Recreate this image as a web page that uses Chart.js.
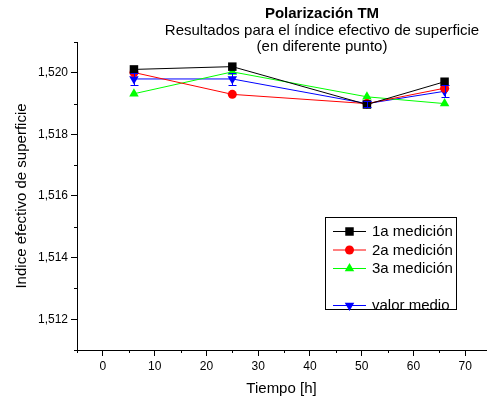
<!DOCTYPE html>
<html>
<head>
<meta charset="utf-8">
<script src="https://cdn.jsdelivr.net/npm/chart.js@4"></script>
<style>
  html, body { margin: 0; padding: 0; background: #fff; }
  #wrap { width: 492px; height: 399px; }
</style>
</head>
<body>
<div id="wrap"><canvas id="chart" width="492" height="399"></canvas></div>
<script>
const tiempo = [6, 25, 51, 66];
const medicion1 = [1.52011, 1.5202, 1.51897, 1.51971];
const medicion2 = [1.52001, 1.5193, 1.5190, 1.5195];
const medicion3 = [1.51932, 1.52003, 1.51922, 1.5190];
const valorMedio = [1.5198, 1.5198, 1.5190, 1.5194];
const errorMedio = [0.0002, 0.0002, 0.0001, 0.0002];
const xTicks = [0, 10, 20, 30, 40, 50, 60, 70];
const xMinorTicks = [-5, 5, 15, 25, 35, 45, 55, 65];
const yTicks = [1.512, 1.514, 1.516, 1.518, 1.520];
const yMinorTicks = [1.511, 1.513, 1.515, 1.517, 1.519, 1.521];
const titleLines = ['Polarización TM', 'Resultados para el índice efectivo de superficie', '(en diferente punto)'];
const legendLabels = ['1a medición', '2a medición', '3a medición', 'valor medio'];

const FONT = '"Liberation Sans", Arial, sans-serif';
Chart.defaults.font.family = FONT;
Chart.defaults.color = '#000';

function pts(ys) {
  return tiempo.map((t, i) => ({x: t, y: ys[i]}));
}

const datasets = [
  {label: legendLabels[0], data: pts(medicion1), borderColor: '#000', backgroundColor: '#000',
   pointStyle: 'rect', pointRadius: 6},
  {label: legendLabels[1], data: pts(medicion2), borderColor: '#ff0000', backgroundColor: '#ff0000',
   pointStyle: 'circle', pointRadius: 4.5},
  {label: legendLabels[2], data: pts(medicion3), borderColor: '#00ff00', backgroundColor: '#00ff00',
   pointStyle: 'triangle', pointRadius: 5.5},
  {label: legendLabels[3], data: pts(valorMedio), borderColor: '#0000ff', backgroundColor: '#0000ff',
   pointStyle: 'triangle', pointRotation: 180, pointRadius: 5.5},
];
datasets.forEach(d => {
  d.borderWidth = 1;
  d.pointBorderWidth = 0;
  d.tension = 0;
  d.fill = false;
});

// titles drawn above the plot, overlapping the top of the chart area
const titlePlugin = {
  id: 'titles',
  afterDraw(chart) {
    const ctx = chart.ctx;
    ctx.save();
    ctx.fillStyle = '#000';
    ctx.textAlign = 'center';
    ctx.textBaseline = 'middle';
    ctx.font = 'bold 15px ' + FONT;
    ctx.fillText(titleLines[0], 322, 14);
    ctx.font = '15px ' + FONT;
    ctx.fillText(titleLines[1], 322, 31);
    ctx.fillText(titleLines[2], 322, 47);
    ctx.restore();
  }
};

// short minor ticks
const minorTicks = {
  id: 'minorTicks',
  afterDraw(chart) {
    const {ctx, scales: {x, y}, chartArea} = chart;
    ctx.save();
    ctx.strokeStyle = '#000';
    ctx.lineWidth = 1;
    ctx.beginPath();
    xMinorTicks.forEach(v => {
      const px = Math.round(x.getPixelForValue(v)) + 0.5;
      ctx.moveTo(px, chartArea.bottom);
      ctx.lineTo(px, chartArea.bottom + 3);
    });
    yMinorTicks.forEach(v => {
      const py = Math.round(y.getPixelForValue(v)) + 0.5;
      ctx.moveTo(chartArea.left, py);
      ctx.lineTo(chartArea.left - 3, py);
    });
    ctx.stroke();
    ctx.restore();
  }
};

// error bars on the mean
const errorBars = {
  id: 'errorBars',
  afterDatasetsDraw(chart) {
    const {ctx, scales: {x, y}} = chart;
    ctx.save();
    ctx.strokeStyle = '#0000ff';
    ctx.lineWidth = 1;
    ctx.beginPath();
    tiempo.forEach((t, i) => {
      const px = Math.round(x.getPixelForValue(t)) + 0.5;
      const top = Math.round(y.getPixelForValue(valorMedio[i] + errorMedio[i])) + 0.5;
      const bot = Math.round(y.getPixelForValue(valorMedio[i] - errorMedio[i])) + 0.5;
      ctx.moveTo(px, top); ctx.lineTo(px, bot);
      ctx.moveTo(px - 4, top); ctx.lineTo(px + 4, top);
      ctx.moveTo(px - 4, bot); ctx.lineTo(px + 4, bot);
    });
    ctx.stroke();
    ctx.restore();
  }
};

// boxed legend inside the plot
const boxLegend = {
  id: 'boxLegend',
  afterDraw(chart) {
    const ctx = chart.ctx;
    const rows = [231, 249.5, 268, 305];
    ctx.save();
    ctx.strokeStyle = '#000';
    ctx.lineWidth = 1;
    ctx.strokeRect(325.5, 217.5, 131, 92);
    ctx.font = '15px ' + FONT;
    ctx.textAlign = 'left';
    ctx.textBaseline = 'middle';
    chart.data.datasets.forEach((ds, i) => {
      const yy = rows[i];
      ctx.strokeStyle = ds.borderColor;
      ctx.beginPath();
      ctx.moveTo(333, yy + 0.5);
      ctx.lineTo(366, yy + 0.5);
      ctx.stroke();
      ctx.fillStyle = ds.backgroundColor;
      Chart.helpers.drawPoint(ctx, {
        pointStyle: ds.pointStyle,
        radius: ds.pointRadius,
        rotation: ds.pointRotation || 0,
        borderWidth: 0
      }, 349.5, yy + 0.5);
      ctx.fillStyle = '#000';
      ctx.fillText(ds.label, 372, yy + 1);
    });
    ctx.restore();
  }
};

new Chart(document.getElementById('chart'), {
  type: 'line',
  data: {datasets: datasets},
  plugins: [titlePlugin, minorTicks, errorBars, boxLegend],
  options: {
    responsive: false,
    animation: false,
    layout: {padding: {top: 42, right: 2, left: 0, bottom: 0}},
    plugins: {legend: {display: false}, tooltip: {enabled: false}},
    scales: {
      x: {
        type: 'linear',
        min: -5,
        max: 74,
        afterBuildTicks: s => { s.ticks = xTicks.map(v => ({value: v})); },
        afterFit: s => { s.height = 49; },
        grid: {drawOnChartArea: false, drawTicks: true, tickLength: 6, tickColor: '#000'},
        border: {display: true, color: '#000', width: 1},
        ticks: {font: {size: 12}, padding: 3, maxRotation: 0, color: '#000'},
        title: {display: true, text: 'Tiempo [h]', font: {size: 15}, padding: {top: 0, bottom: 1}}
      },
      y: {
        type: 'linear',
        min: 1.511,
        max: 1.521,
        afterBuildTicks: s => { s.ticks = yTicks.map(v => ({value: v})); },
        afterFit: s => { s.width = 77; },
        grid: {drawOnChartArea: false, drawTicks: true, tickLength: 6, tickColor: '#000'},
        border: {display: true, color: '#000', width: 1},
        ticks: {
          font: {size: 12}, padding: 3, color: '#000',
          callback: v => v.toFixed(3).replace('.', ',')
        },
        title: {display: true, text: 'Indice efectivo de superficie', font: {size: 15}, padding: {top: 13, bottom: 0}}
      }
    }
  }
});
</script>
</body>
</html>
